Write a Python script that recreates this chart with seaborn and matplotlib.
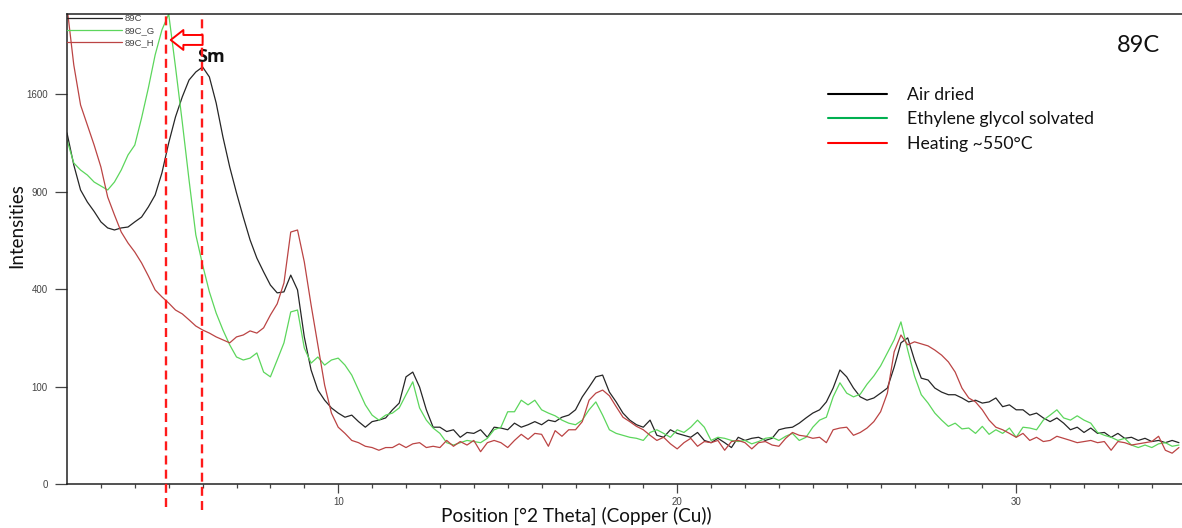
import numpy as np
import pandas as pd
import matplotlib
matplotlib.use("Agg")
import matplotlib.pyplot as plt
import seaborn as sns
from matplotlib.lines import Line2D

# Diffraction scans of sample 89C, intensities (counts) on a 0.2° 2-theta grid
two_theta = np.round(np.arange(2.0, 34.81, 0.2), 1)

air_dried = [
    1299, 1073, 911, 838, 783, 724, 691, 680, 691, 696,
    724, 751, 809, 880, 1020, 1226, 1420, 1579, 1720, 1789,
    1833, 1746, 1530, 1269, 1059, 893, 751, 628, 538, 474,
    417, 385, 389, 460, 397, 228, 137, 93, 74, 61,
    53, 47, 50, 41, 34, 41, 43, 46, 58, 69,
    121, 132, 99, 58, 34, 34, 29, 31, 23, 28,
    27, 31, 23, 34, 33, 31, 39, 34, 37, 41,
    37, 43, 41, 47, 50, 58, 80, 99, 121, 125,
    89, 71, 53, 43, 37, 34, 43, 25, 23, 31,
    27, 25, 23, 28, 20, 18, 22, 18, 14, 23,
    20, 22, 23, 20, 22, 31, 33, 34, 39, 46,
    53, 58, 71, 97, 137, 121, 97, 80, 74, 78,
    87, 97, 144, 210, 225, 162, 118, 114, 97, 89,
    84, 84, 78, 71, 74, 69, 71, 78, 63, 66,
    58, 58, 50, 53, 46, 41, 46, 39, 31, 34,
    28, 33, 27, 28, 23, 27, 22, 23, 20, 22,
    19, 20, 18, 20, 18,
]

glycol_solvated = [
    1247, 1086, 1039, 1006, 961, 936, 911, 961, 1039, 1141,
    1211, 1412, 1653, 1940, 2173, 2328, 1833, 1381, 974, 654,
    506, 389, 308, 250, 204, 170, 162, 167, 181, 132,
    121, 162, 210, 312, 319, 195, 154, 170, 149, 162,
    167, 149, 125, 93, 66, 50, 43, 50, 53, 61,
    84, 110, 61, 43, 33, 27, 18, 16, 18, 20,
    19, 18, 22, 31, 34, 55, 55, 74, 66, 74,
    58, 53, 49, 43, 39, 37, 43, 58, 71, 50,
    31, 27, 25, 23, 22, 20, 28, 31, 27, 23,
    31, 28, 34, 43, 34, 20, 23, 22, 20, 19,
    20, 17, 19, 22, 23, 20, 24, 27, 20, 23,
    34, 43, 47, 80, 108, 87, 80, 85, 105, 123,
    147, 181, 219, 277, 189, 123, 84, 69, 53, 43,
    35, 39, 32, 33, 27, 35, 26, 31, 27, 33,
    23, 34, 33, 31, 43, 50, 58, 46, 43, 49,
    43, 39, 28, 25, 23, 20, 22, 16, 14, 16,
    14, 17, 18, 15, 16,
]

heated_550 = [
    2400, 1851, 1514, 1359, 1211, 1059, 868, 763, 669, 612,
    567, 515, 456, 397, 369, 345, 319, 305, 284, 263,
    250, 240, 228, 219, 210, 228, 234, 247, 240, 257,
    301, 342, 426, 669, 680, 520, 338, 204, 103, 53,
    34, 27, 20, 18, 15, 14, 12, 14, 14, 17,
    14, 17, 18, 14, 15, 14, 20, 15, 19, 16,
    20, 11, 18, 20, 18, 14, 20, 26, 21, 27,
    26, 15, 30, 24, 31, 31, 41, 74, 87, 93,
    82, 63, 47, 41, 35, 31, 25, 20, 23, 17,
    13, 18, 22, 15, 19, 18, 20, 12, 19, 20,
    18, 13, 18, 19, 16, 15, 22, 28, 25, 24,
    22, 23, 18, 31, 33, 34, 25, 28, 33, 41,
    55, 87, 184, 234, 204, 213, 207, 201, 189, 175,
    157, 132, 97, 78, 71, 58, 43, 34, 31, 27,
    23, 27, 20, 23, 19, 20, 24, 22, 20, 18,
    19, 20, 18, 19, 12, 19, 18, 16, 17, 18,
    19, 24, 12, 10, 14,
]

scan_names = ["89C", "89C_G", "89C_H"]
treatment_labels = ["Air dried", "Ethylene glycol solvated", "Heating ~550°C"]
sample_name = "89C"
smectite_label = "Sm"
smectite_positions = [4.92, 5.97]
y_tick_values = [0, 100, 400, 900, 1600]
x_tick_values = [10, 20, 30]
x_label = "Position [°2 Theta] (Copper (Cu))"
y_label = "Intensities"

scan_colors = ["#262626", "#5cd65c", "#bb4444"]
treatment_colors = ["#000000", "#00b050", "#ff0000"]

sns.set_theme(style="white")
plt.rcParams["font.family"] = ["Lato", "DejaVu Sans"]

scans = pd.DataFrame({
    "two_theta": np.tile(two_theta, 3),
    "intensity": np.concatenate([air_dried, glycol_solvated, heated_550]),
    "scan": np.repeat(scan_names, len(two_theta)),
})

W, H = 1182, 528
fig = plt.figure(figsize=(W / 100, H / 100), dpi=100)
ax = fig.add_axes([67 / W, 44 / H, 1115 / W, 470 / H])

sns.lineplot(data=scans, x="two_theta", y="intensity", hue="scan",
             hue_order=scan_names, palette=scan_colors, estimator=None,
             sort=False, linewidth=0.9, legend=False, ax=ax)

# square-root intensity axis, as in the diffractometer software
ax.set_yscale("function", functions=(lambda v: np.sqrt(np.clip(v, 0, None)),
                                      lambda v: np.square(v)))
ax.set_xlim(2.0, 2.0 + 1115 / 33.9)
ax.set_ylim(0, 2328)

ax.set_yticks(y_tick_values)
ax.set_yticklabels([str(v) for v in y_tick_values])
ax.set_xticks(x_tick_values)
ax.set_xticklabels([str(v) for v in x_tick_values])
ax.set_xticks(np.arange(3, 35, 1), minor=True)
ax.tick_params(axis="y", which="major", length=9, width=0.9, color="#444444",
               labelsize=7, labelcolor="#444444", pad=5, left=True)
ax.tick_params(axis="x", which="major", length=6.5, width=0.9, color="#444444",
               labelsize=7, labelcolor="#444444", pad=3, bottom=True)
ax.tick_params(axis="x", which="minor", length=3, width=0.9, color="#444444",
               bottom=True)
for lab in ax.get_xticklabels() + ax.get_yticklabels():
    lab.set_family(["Liberation Sans", "DejaVu Sans"])

for side in ("left", "bottom", "top"):
    ax.spines[side].set_color("#222222")
    ax.spines[side].set_linewidth(1.1)
ax.spines["right"].set_visible(False)

ax.set_xlabel(x_label, fontsize=13.7, color="#111111")
ax.xaxis.set_label_coords((576 - 67) / 1115, -0.048)
ax.set_ylabel(y_label, fontsize=13.5, color="#111111")
ax.yaxis.set_label_coords(-0.037, 0.55)

# smectite reflections (glycolated and air dried)
for pos, extend in zip(smectite_positions, [-0.049, -0.055]):
    ax.axvline(pos, ymin=extend, ymax=1.0, color="#ff1a1a", lw=1.7,
               ls=(0, (3.8, 2.2)), clip_on=False, zorder=5)

ax.annotate("", xy=(smectite_positions[0] + 0.14, 2078),
            xytext=(smectite_positions[1] + 0.03, 2078),
            arrowprops=dict(arrowstyle="simple,head_length=0.7,head_width=1.1,tail_width=0.55",
                            mutation_scale=13, fc="white", ec="#ff0000", lw=1.4,
                            shrinkA=0, shrinkB=0),
            zorder=6)
ax.text(smectite_positions[1] + 0.29, 1922, smectite_label, fontsize=13,
        fontweight="bold", ha="center", va="center", color="#111111",
        family=["Open Sans", "DejaVu Sans"])

ax.text(0.980, 0.934, sample_name, transform=ax.transAxes, fontsize=17,
        ha="right", va="center", color="#111111")

# scan legend in the corner, as exported by the instrument software
scan_handles = [Line2D([], [], color=c, lw=0.9) for c in scan_colors]
leg_scans = ax.legend(scan_handles, scan_names, loc="upper left",
                      bbox_to_anchor=(0.0, 1.0), frameon=False,
                      handlelength=5.8, handletextpad=0.25, borderpad=0.0,
                      borderaxespad=0, labelspacing=0.34,
                      prop={"family": ["Liberation Sans", "DejaVu Sans"], "size": 6.8})
for t in leg_scans.get_texts():
    t.set_color("#444444")
ax.add_artist(leg_scans)

treat_handles = [Line2D([], [], color=c, lw=1.5) for c in treatment_colors]
leg_treat = ax.legend(treat_handles, treatment_labels, loc="upper left",
                      bbox_to_anchor=(0.6825, 0.845), frameon=False,
                      fontsize=12.7, handlelength=3.35, handletextpad=1.12,
                      borderpad=0, borderaxespad=0, labelspacing=0.48)
for t in leg_treat.get_texts():
    t.set_color("#111111")

fig.savefig("out.png", dpi=100, facecolor="white")
